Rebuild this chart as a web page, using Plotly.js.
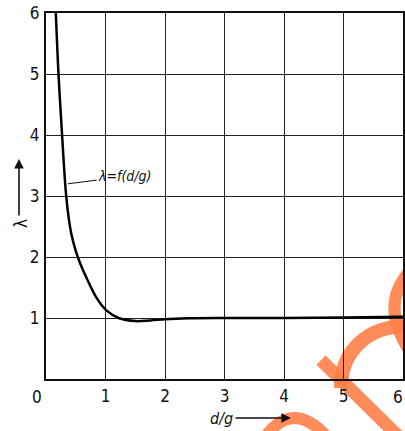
<!DOCTYPE html>
<html>
<head>
<meta charset="utf-8">
<script src="https://cdn.plot.ly/plotly-3.0.1.min.js"></script>
<style>html,body{margin:0;padding:0;background:#fff;}#chart{width:405px;height:431px;}</style>
</head>
<body>
<div id="chart"></div>
<script>
// Curve lambda = f(d/g)
const dg = [0.165, 0.21, 0.27, 0.335, 0.38, 0.43, 0.50, 0.58, 0.68, 0.85, 1.02, 1.22, 1.5, 1.75, 2.0, 2.4, 3.0, 4.0, 5.0, 6.0];
const lambda = [6.0, 5.0, 4.0, 3.05, 2.65, 2.36, 2.1, 1.88, 1.66, 1.33, 1.12, 1.0, 0.95, 0.96, 0.98, 0.995, 1.0, 1.0, 1.01, 1.02];

const xTickVals = [0, 1, 2, 3, 4, 5, 6];
const xTickText = ['0', '1', '2', '3', '4', '5', '6'];
const yTickVals = [1, 2, 3, 4, 5, 6];
const yTickText = ['1', '2', '3', '4', '5', '6'];
const curveLabel = 'λ=f(d/g)';
const xTitle = 'd/g';
const yTitle = 'λ';

const W = 405, H = 431;
const M = {l: 46, r: 2, t: 13, b: 52};
const pw = W - M.l - M.r, ph = H - M.t - M.b;
const px = x => (x - M.l) / pw;
const py = y => (M.t + ph - y) / ph;
const P = (x, y) => px(x).toFixed(4) + ',' + py(y).toFixed(4);

const font = 'DejaVu Sans Condensed, DejaVu Sans, sans-serif';
const wm = 'rgba(255,128,72,0.9)';

const shapes = [
  {type: 'path', xref: 'paper', yref: 'paper', layer: 'below',
   path: 'M' + P(341, 388) + ' C' + P(341, 352) + ' ' + P(366, 327) + ' ' + P(405, 326),
   line: {color: wm, width: 14}},
  {type: 'path', xref: 'paper', yref: 'paper', layer: 'below',
   path: 'M' + P(409, 272) + ' Q' + P(380, 305) + ' ' + P(409, 350),
   line: {color: wm, width: 12}},
  {type: 'path', xref: 'paper', yref: 'paper', layer: 'below',
   path: 'M' + P(321, 360) + ' L' + P(398, 436),
   line: {color: wm, width: 13}},
  {type: 'path', xref: 'paper', yref: 'paper', layer: 'below',
   path: 'M' + P(266, 436) + ' Q' + P(293, 400) + ' ' + P(326, 436),
   line: {color: wm, width: 12}}
];

const tickFont = {family: font, size: 17, color: '#111'};
const annotations = [
  {x: 0.37, y: 3.2, xref: 'x', yref: 'y', text: curveLabel, showarrow: true,
   ax: 1.33, ay: 3.32, axref: 'x', ayref: 'y', xanchor: 'center', yanchor: 'middle',
   arrowhead: 0, arrowwidth: 1, arrowcolor: '#111', standoff: 0,
   font: {family: font, size: 14, color: '#111', style: 'italic'}},
  // first and last x tick labels (the first sits left of the corner, the last at the page edge)
  {x: xTickVals[0], y: py(397), xref: 'x', yref: 'paper', xshift: -9, xanchor: 'center', yanchor: 'middle',
   text: xTickText[0], showarrow: false, font: tickFont},
  {x: xTickVals[6], y: py(397), xref: 'x', yref: 'paper', xshift: 2, xanchor: 'right', yanchor: 'middle',
   text: xTickText[6], showarrow: false, font: tickFont},
  {x: px(221), y: py(418), xref: 'paper', yref: 'paper', xanchor: 'center', yanchor: 'middle',
   text: xTitle, showarrow: false,
   font: {family: font, size: 16, color: '#111', style: 'italic'}},
  {x: px(291), y: py(418), xref: 'paper', yref: 'paper', ax: -57, ay: 0, axref: 'pixel', ayref: 'pixel',
   text: '', showarrow: true, arrowhead: 2, arrowsize: 1.2, arrowwidth: 1.6, arrowcolor: '#111'},
  {x: px(21), y: py(224), xref: 'paper', yref: 'paper', xanchor: 'center', yanchor: 'middle',
   text: yTitle, showarrow: false, textangle: -90,
   font: {family: font, size: 17, color: '#111'}},
  {x: px(19), y: py(159), xref: 'paper', yref: 'paper', ax: 0, ay: 58, axref: 'pixel', ayref: 'pixel',
   text: '', showarrow: true, arrowhead: 2, arrowsize: 1.2, arrowwidth: 1.6, arrowcolor: '#111'}
];

const axisCommon = {
  range: [0, 6], showgrid: true, gridcolor: '#222', gridwidth: 1,
  zeroline: false, showline: true, mirror: true, linecolor: '#111', linewidth: 2,
  ticks: '', tickfont: tickFont
};

const layout = {
  width: W, height: H, margin: M,
  paper_bgcolor: '#fff', plot_bgcolor: 'rgba(0,0,0,0)',
  showlegend: false,
  xaxis: Object.assign({}, axisCommon, {tickvals: xTickVals.slice(1, 6), ticktext: xTickText.slice(1, 6), ticklabelstandoff: 1}),
  yaxis: Object.assign({}, axisCommon, {tickvals: yTickVals, ticktext: yTickText, ticklabelstandoff: 1}),
  shapes: shapes,
  annotations: annotations
};

const trace = {
  x: dg, y: lambda, type: 'scatter', mode: 'lines',
  line: {color: '#000', width: 2.5, shape: 'spline', smoothing: 1},
  cliponaxis: true, hoverinfo: 'skip'
};

Plotly.newPlot('chart', [trace], layout, {staticPlot: true}).then(() => {
  document.querySelectorAll('#chart text').forEach(t => { t.style.fontStretch = 'condensed'; });
});
</script>
</body>
</html>
